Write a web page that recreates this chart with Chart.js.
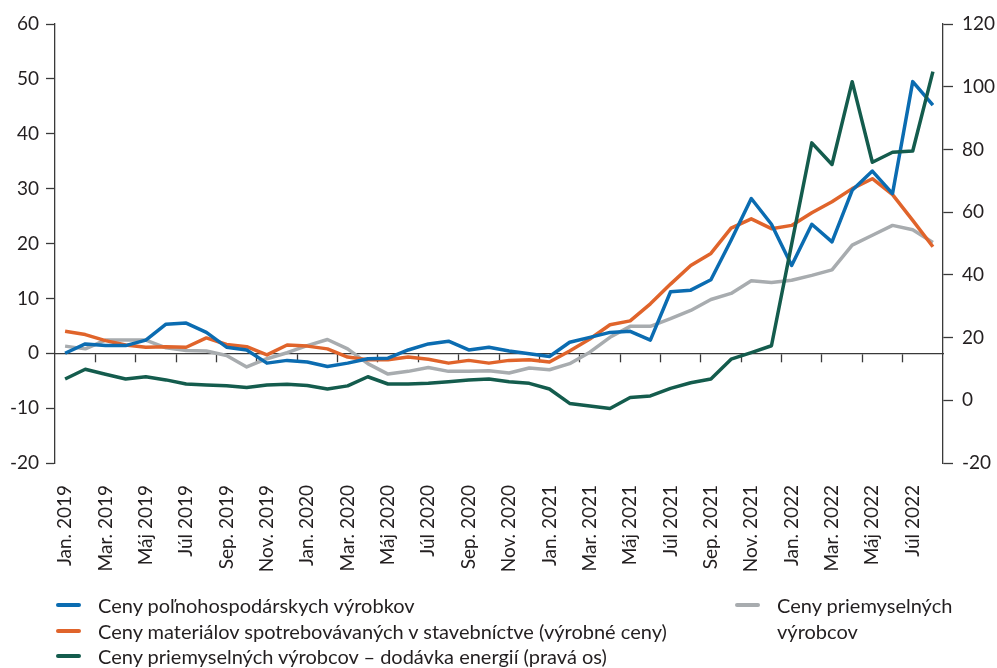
<!DOCTYPE html>
<html>
<head>
<meta charset="utf-8">
<script src="https://cdn.jsdelivr.net/npm/chart.js@4/dist/chart.umd.min.js"></script>
<style>
  body { margin: 0; background: #fff; font-family: Lato, sans-serif; color: #231f20; }
  #wrap { position: relative; width: 997px; height: 668px; }
  #chart { position: absolute; left: 0; top: 0; }
  .leg { position: absolute; font-size: 20px; line-height: 26px; white-space: nowrap; }
  .leg .sw { position: absolute; left: 0; top: 11px; width: 25px; height: 4px; border-radius: 2px; }
  .leg .tx { position: absolute; left: 42px; top: 0; }
</style>
</head>
<body>
<div id="wrap">
  <canvas id="chart" width="997" height="668"></canvas>
  <div id="legend"></div>
</div>
<script>
// Mesiace (jan. 2019 - aug. 2022)
var monthNames = ['Jan.', 'Feb.', 'Mar.', 'Apr.', 'Máj', 'Jún', 'Júl', 'Aug.', 'Sep.', 'Okt.', 'Nov.', 'Dec.'];
var years = [2019, 2020, 2021, 2022];
var months = [];
years.forEach(function(y) {
    monthNames.forEach(function(m) {
        if (months.length < 44) months.push(m + ' ' + y);
    });
});

// Ceny poľnohospodárskych výrobkov (ľavá os)
var agriPrices = [0, 1.7, 1.4, 1.4, 2.4, 5.3, 5.5, 3.8, 1.1, 0.6, -1.8, -1.3,
    -1.6, -2.4, -1.8, -1.0, -0.9, 0.6, 1.7, 2.2, 0.6, 1.1, 0.4, -0.1,
    -0.6, 2.0, 2.9, 3.8, 4.0, 2.4, 11.2, 11.5, 13.4, 20.6, 28.2, 23.5,
    16.0, 23.5, 20.3, 29.7, 33.2, 29.1, 49.5, 45.2];

// Ceny materiálov v stavebníctve (ľavá os)
var constructionPrices = [4.0, 3.4, 2.3, 1.5, 1.1, 1.2, 1.1, 2.8, 1.6, 1.2, -0.3, 1.5,
    1.3, 0.8, -0.7, -1.2, -1.2, -0.7, -1.1, -1.8, -1.3, -1.8, -1.3, -1.2,
    -1.6, 0.4, 2.6, 5.2, 5.9, 9.0, 12.6, 16.0, 18.2, 22.8, 24.5, 22.7,
    23.3, 25.6, 27.6, 30.0, 31.8, 28.9, 24.2, 19.4];

// Ceny priemyselných výrobcov (ľavá os)
var industryPrices = [1.3, 0.8, 2.4, 2.4, 2.4, 1.0, 0.5, 0.4, -0.4, -2.5, -1.0, 0.1,
    1.4, 2.5, 0.8, -1.9, -3.8, -3.3, -2.6, -3.3, -3.3, -3.2, -3.6, -2.7,
    -3.0, -1.9, 0.2, 2.9, 4.9, 4.9, 6.3, 7.8, 9.8, 10.9, 13.2, 12.9,
    13.3, 14.2, 15.2, 19.7, 21.5, 23.3, 22.5, 20.2];

// Dodávka energií (pravá os)
var energyPrices = [6.8, 9.9, 8.3, 6.8, 7.5, 6.5, 5.2, 4.9, 4.6, 4.1, 4.9, 5.1,
    4.7, 3.6, 4.6, 7.5, 5.2, 5.2, 5.4, 5.9, 6.5, 6.8, 5.9, 5.4,
    3.6, -1.0, -1.8, -2.6, 0.9, 1.4, 3.8, 5.6, 6.8, 13.1, 15.2, 17.4,
    49.8, 82.1, 75.2, 101.6, 75.9, 79.1, 79.5, 104.8];

var textColor = '#231f20';
var axisColor = '#3a3a3a';
var fontFamily = 'Lato, sans-serif';

var datasets = [
    { label: 'Ceny poľnohospodárskych výrobkov', data: agriPrices, borderColor: '#0b6cb1', yAxisID: 'y', order: 1 },
    { label: 'Ceny materiálov spotrebovávaných v stavebníctve (výrobné ceny)', data: constructionPrices, borderColor: '#e0642b', yAxisID: 'y', order: 2 },
    { label: 'Ceny priemyselných výrobcov', data: industryPrices, borderColor: '#a8acaf', yAxisID: 'y', order: 3 },
    { label: 'Ceny priemyselných výrobcov – dodávka energií (pravá os)', data: energyPrices, borderColor: '#145c4d', yAxisID: 'y1', order: 0 }
];
datasets.forEach(function(ds) {
    ds.borderWidth = 3.5;
    ds.pointRadius = 0;
    ds.tension = 0;
    ds.fill = false;
    ds.borderJoinStyle = 'round';
});

var ctx = document.getElementById('chart');
var chart = new Chart(ctx, {
    type: 'line',
    data: { labels: months, datasets: datasets },
    options: {
        responsive: false,
        animation: false,
        layout: { padding: { top: 24, left: 0, right: 0, bottom: 0 } },
        plugins: { legend: { display: false }, tooltip: { enabled: false } },
        scales: {
            x: {
                type: 'category',
                position: 'bottom',
                offset: true,
                grid: { display: false },
                border: { display: false },
                ticks: {
                    autoSkip: false,
                    minRotation: 90,
                    maxRotation: 90,
                    padding: 14,
                    color: textColor,
                    font: { family: fontFamily, size: 19 },
                    callback: function(value, index) {
                        return index % 2 === 0 ? months[index] : '';
                    }
                },
                afterFit: function(scale) { scale.height = 205; }
            },
            x0: {
                type: 'category',
                axis: 'x',
                position: { y: 0 },
                offset: true,
                grid: {
                    offset: true,
                    drawOnChartArea: false,
                    tickLength: 8,
                    tickWidth: 1.3,
                    tickColor: function(c) {
                        return (c.index !== undefined && c.index >= 2 && c.index % 2 === 0 && c.index < months.length) ? axisColor : 'rgba(0,0,0,0)';
                    }
                },
                border: { display: true, color: axisColor, width: 1.3 },
                ticks: { display: false, autoSkip: false }
            },
            y: {
                position: 'left',
                min: -20,
                max: 60,
                grid: { drawOnChartArea: false, tickLength: 9, color: axisColor, tickWidth: 1.3 },
                border: { display: true, color: axisColor, width: 1.3 },
                ticks: { stepSize: 10, padding: 7, color: textColor, font: { family: fontFamily, size: 19 } },
                afterFit: function(scale) { scale.width = 55; }
            },
            y1: {
                position: 'right',
                min: -20,
                max: 120,
                grid: { drawOnChartArea: false, tickLength: 10, color: axisColor, tickWidth: 1.3 },
                border: { display: true, color: axisColor, width: 1.3 },
                ticks: { stepSize: 20, padding: 9, color: textColor, font: { family: fontFamily, size: 19 } },
                afterFit: function(scale) { scale.width = 54; }
            }
        }
    }
});

// Legenda (vlastné rozloženie ako v predlohe)
var legendSlots = [
    { ds: 0, left: 56, top: 592 },
    { ds: 1, left: 56, top: 618 },
    { ds: 3, left: 56, top: 643 },
    { ds: 2, left: 735, top: 592, width: 200 }
];
var legendEl = document.getElementById('legend');
legendSlots.forEach(function(slot) {
    var ds = chart.data.datasets[slot.ds];
    var item = document.createElement('div');
    item.className = 'leg';
    item.style.left = slot.left + 'px';
    item.style.top = slot.top + 'px';
    var sw = document.createElement('span');
    sw.className = 'sw';
    sw.style.background = ds.borderColor;
    var tx = document.createElement('span');
    tx.className = 'tx';
    tx.textContent = ds.label;
    if (slot.width) {
        tx.style.whiteSpace = 'normal';
        tx.style.width = slot.width + 'px';
    }
    item.appendChild(sw);
    item.appendChild(tx);
    legendEl.appendChild(item);
});
</script>
</body>
</html>
